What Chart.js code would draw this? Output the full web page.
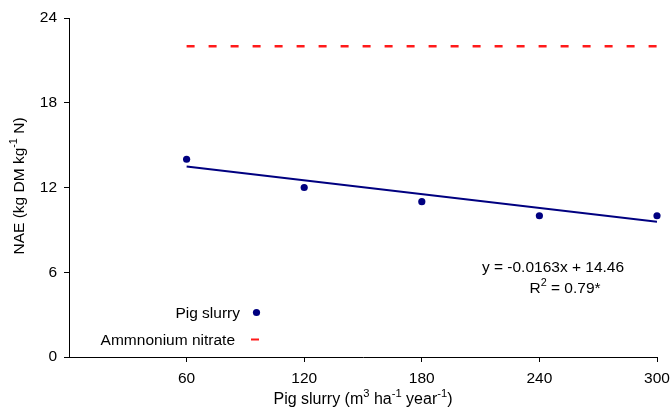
<!DOCTYPE html>
<html>
<head>
<meta charset="utf-8">
<script src="https://cdn.jsdelivr.net/npm/chart.js@4"></script>
<style>
  html, body { margin: 0; padding: 0; background: #fff; }
  #wrap { width: 671px; height: 407px; }
</style>
</head>
<body>
<div id="wrap"><canvas id="nae"></canvas></div>
<script>
// Pig slurry doses (m3/ha/year) and nitrogen agronomic efficiency
const doses = [60, 120, 180, 240, 300];
const pigSlurryNae = [14, 12, 11, 10, 10];
const ammoniumNitrateNae = 22;
const trendSlope = -0.0163;
const trendIntercept = 14.46;
const trendR2 = '0.79*';
const yTicks = [0, 6, 12, 18, 24];

const FONT = '"Liberation Sans", Arial, sans-serif';
const NAVY = '#000080';
const RED = '#ff1a1a';
const TXT = 15.5;

// text pieces with superscripts: [[text, sup], ...]
function richWidth(ctx, parts, size) {
    let w = 0;
    for (const [t, sup] of parts) {
        ctx.font = (sup ? size * 0.7 : size) + 'px ' + FONT;
        w += ctx.measureText(t).width;
    }
    return w;
}

function drawRich(ctx, parts, x, y, size, align) {
    let w = richWidth(ctx, parts, size);
    let cx = align === 'center' ? x - w / 2 : align === 'right' ? x - w : x;
    ctx.textAlign = 'left';
    ctx.textBaseline = 'alphabetic';
    for (const [t, sup] of parts) {
        ctx.font = (sup ? size * 0.7 : size) + 'px ' + FONT;
        ctx.fillText(t, cx, sup ? y - size * 0.42 : y);
        cx += ctx.measureText(t).width;
    }
}

const annotations = {
    id: 'annotations',
    afterDraw(chart) {
        const ctx = chart.ctx;
        const area = chart.chartArea;
        const ds = chart.data.datasets;
        ctx.save();
        ctx.fillStyle = '#000';

        // axis titles
        drawRich(ctx, [['Pig slurry (m'], ['3', 1], [' ha'], ['-1', 1], [' year'], ['-1', 1], [')']],
            (area.left + area.right) / 2, 404, 16, 'center');
        ctx.save();
        ctx.translate(24, 186);
        ctx.rotate(-Math.PI / 2);
        drawRich(ctx, [['NAE (kg DM kg'], ['-1', 1], [' N)']], 0, 0, TXT, 'center');
        ctx.restore();

        // regression equation
        drawRich(ctx, [['y = ' + trendSlope + 'x + ' + trendIntercept]], 553, 272, TXT, 'center');
        drawRich(ctx, [['R'], ['2', 1], [' = ' + trendR2]], 565, 293, TXT, 'center');

        // legend inside the plot, marker on the right of the label
        drawRich(ctx, [[ds[0].label]], 240, 318, TXT, 'right');
        drawRich(ctx, [[ds[2].label]], 235, 345, TXT, 'right');
        ctx.fillStyle = NAVY;
        ctx.beginPath();
        ctx.arc(256.5, 312.5, 3.6, 0, Math.PI * 2);
        ctx.fill();
        ctx.strokeStyle = RED;
        ctx.lineWidth = 2;
        ctx.beginPath();
        ctx.moveTo(251, 339.5);
        ctx.lineTo(259, 339.5);
        ctx.stroke();
        ctx.restore();
    }
};

new Chart(document.getElementById('nae'), {
    type: 'scatter',
    data: {
        datasets: [
            {
                label: 'Pig slurry',
                data: doses.map((d, i) => ({ x: d, y: pigSlurryNae[i] })),
                backgroundColor: NAVY,
                borderColor: NAVY,
                pointRadius: 3.6,
                pointBorderWidth: 0,
                clip: false,
                order: 0
            },
            {
                label: 'Trend',
                data: [doses[0], doses[doses.length - 1]].map(d => ({ x: d, y: trendSlope * d + trendIntercept })),
                showLine: true,
                borderColor: NAVY,
                borderWidth: 2,
                pointRadius: 0,
                order: 1
            },
            {
                label: 'Ammnonium nitrate',
                data: [doses[0], doses[doses.length - 1]].map(d => ({ x: d, y: ammoniumNitrateNae })),
                showLine: true,
                borderColor: RED,
                borderWidth: 2.5,
                borderDash: [8, 14],
                pointRadius: 0,
                order: 2
            }
        ]
    },
    options: {
        responsive: true,
        maintainAspectRatio: false,
        animation: false,
        layout: { padding: { left: 0, top: 18, right: 14, bottom: 0 } },
        plugins: { legend: { display: false }, tooltip: { enabled: false } },
        scales: {
            x: {
                type: 'linear',
                min: 0,
                max: 300,
                afterBuildTicks: s => { s.ticks = doses.map(v => ({ value: v })); },
                afterFit: s => { s.height = 50; s.paddingLeft = 0; s.paddingRight = 0; },
                grid: { drawOnChartArea: false, tickLength: 5, color: '#000', tickColor: '#000' },
                border: { color: '#000', width: 1 },
                ticks: { color: '#000', padding: 7, maxRotation: 0, font: { family: FONT, size: TXT } }
            },
            y: {
                min: 0,
                max: 24,
                afterBuildTicks: s => { s.ticks = yTicks.map(v => ({ value: v })); },
                afterFit: s => { s.width = 69; s.paddingTop = 0; s.paddingBottom = 0; },
                grid: { drawOnChartArea: false, tickLength: 5, color: '#000', tickColor: '#000' },
                border: { color: '#000', width: 1 },
                ticks: { color: '#000', padding: 7, font: { family: FONT, size: TXT } }
            }
        }
    },
    plugins: [annotations]
});
</script>
</body>
</html>
